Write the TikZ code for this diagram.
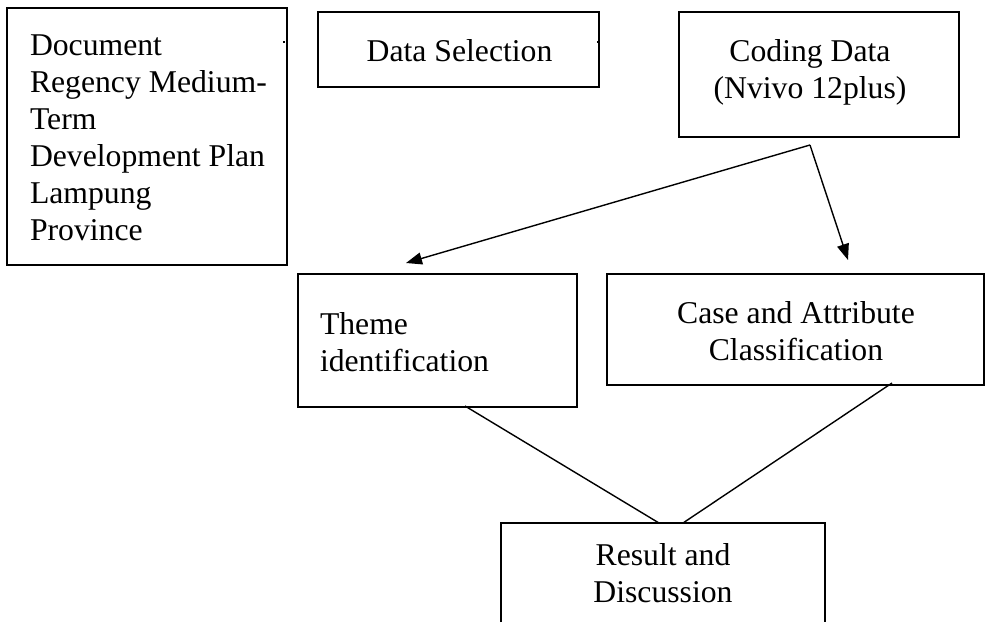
\documentclass[tikz,border=0pt]{standalone}
\usepackage{fontspec}
\setmainfont{Liberation Serif}
\usetikzlibrary{arrows.meta,calc}
\newcommand{\lines}[2]{\begin{tabular}[t]{@{}#1@{}}#2\end{tabular}}
\begin{document}
\begin{tikzpicture}[x=1pt,y=-1pt,
  boxstyle/.style={draw=black,line width=1.8pt,rectangle,inner sep=0pt,outer sep=0pt},
  txtstyle/.style={font=\fontsize{31.7}{37}\selectfont,inner sep=0pt,outer sep=0pt},
  conn/.style={draw=black,line width=1.4pt},
  arr/.style={conn,-{Triangle[length=16pt,width=12pt]}}]
\useasboundingbox (0,0) rectangle (985,622);
% boxes
\node[boxstyle,minimum width=280pt,minimum height=257pt] (doc) at (147,136.5) {};
\node[boxstyle,minimum width=281pt,minimum height=75pt] (sel) at (458.5,49.5) {};
\node[boxstyle,minimum width=280pt,minimum height=125pt] (cod) at (819,74.5) {};
\node[boxstyle,minimum width=279pt,minimum height=133pt] (thm) at (437.5,340.5) {};
\node[boxstyle,minimum width=377pt,minimum height=111pt] (cas) at (795.5,329.5) {};
\node[inner sep=0pt,outer sep=0pt,minimum width=324pt,minimum height=99pt] (res) at (663,572.5) {};
\draw[line width=1.8pt] (res.south west) |- (res.north east) -- (res.south east);
% texts
\node[txtstyle,anchor=base west] (doct) at (30,55)
  {\lines{l}{Document\\Regency Medium-\\Term\\Development Plan\\Lampung\\Province}};
\node[txtstyle,anchor=base] (selt) at (459.5,61) {Data Selection};
\node[txtstyle,anchor=base] (codt) at (810,61)
  {\lines{c}{Coding Data\\(Nvivo 12plus)}};
\node[txtstyle,anchor=base west] (thmt) at (320,334)
  {\lines{l}{Theme\\identification}};
\node[txtstyle,anchor=base] (cast) at (796,323)
  {\lines{c}{Case and Attribute\\Classification}};
\node[txtstyle,anchor=base] (rest) at (663,565)
  {\lines{c}{Result and\\Discussion}};
% small marks
\fill (282.5,40.5) rectangle (284.5,43);
\fill (596.5,40.5) rectangle (598.5,43);
% connectors
\coordinate (fork) at ($(cod.south west)+(131,8)$);
\coordinate (thmin) at ($(thm.north west)+(108,-11)$);
\coordinate (casin) at ($(cas.north west)+(241,-14)$);
\draw[arr] (fork) -- (thmin);
\draw[arr] (fork) -- (casin);
\coordinate (thmout) at ($(thm.south west)+(167,-1)$);
\coordinate (casout) at ($(cas.south west)+(285,-2)$);
\coordinate (resinl) at ($(res.north west)+(158,0)$);
\coordinate (resinr) at ($(res.north west)+(182,0)$);
\draw[conn] (thmout) -- (resinl);
\draw[conn] (casout) -- (resinr);
\end{tikzpicture}
\end{document}
